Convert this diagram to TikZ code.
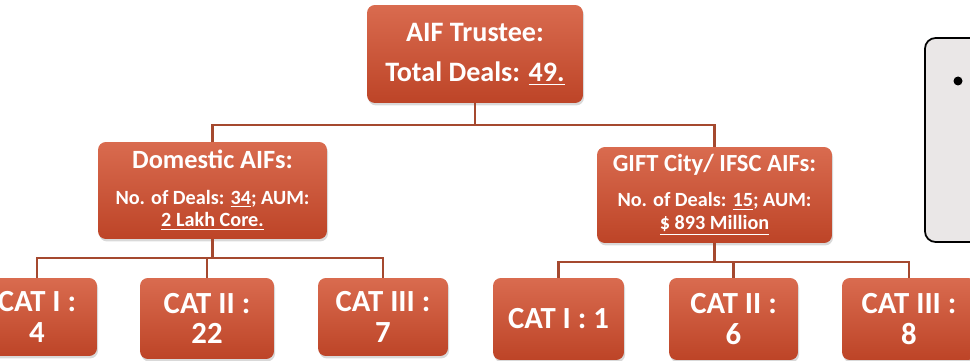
\documentclass[tikz,border=0pt]{standalone}
\usepackage{fontspec}
\setmainfont{Carlito}
\usetikzlibrary{shadows}
\definecolor{boxtop}{HTML}{D96B4F}
\definecolor{boxbot}{HTML}{BD4427}
\definecolor{linkcol}{HTML}{A5492F}
\definecolor{panelgray}{HTML}{EAE7E7}
\tikzset{
  aifbox/.style={rounded corners=4.5pt, top color=boxtop, bottom color=boxbot, text=white, align=center, inner sep=0pt,
    drop shadow={opacity=0.3, shadow xshift=0.6pt, shadow yshift=-1.4pt}},
  catbox/.style={aifbox, font=\bfseries\fontsize{17.5}{17.5}\selectfont},
  link/.style={draw=linkcol, line width=1.5pt},
}

\begin{document}
\begin{tikzpicture}[x=0.02cm, y=-0.02cm]
   \useasboundingbox (0,0) rectangle (970,361);
   \clip (0,0) rectangle (970,361);
   \node[aifbox, minimum width=4.32cm, minimum height=1.96cm, font=\bfseries\fontsize{16}{22.7}\selectfont] (trustee) at (475,54) {AIF Trustee:\\Total Deals: \underline{49.}};
   \node[aifbox, minimum width=4.58cm, minimum height=1.94cm, font=\bfseries\fontsize{11.5}{13}\selectfont] (domestic) at (212.5,190.5) {{\fontsize{15}{15}\selectfont Domestic AIFs:}\\[7pt]No. of Deals: \underline{34}; AUM:\\\underline{2 Lakh Core.}};
   \node[aifbox, minimum width=4.70cm, minimum height=1.92cm, font=\bfseries\fontsize{11.5}{13}\selectfont] (gift) at (714.5,195) {{\fontsize{14}{14}\selectfont GIFT City/ IFSC AIFs:}\\[7pt]No. of Deals: \underline{15}; AUM:\\\underline{\$ 893 Million}};
   \node[catbox, minimum width=2.40cm, minimum height=1.56cm] (dcat1) at (37,317) {CAT I :\\4};
   \node[catbox, minimum width=2.68cm, minimum height=1.62cm] (dcat2) at (207,318.5) {CAT II :\\22};
   \node[catbox, minimum width=2.60cm, minimum height=1.56cm] (dcat3) at (383,317) {CAT III :\\7};
   \node[catbox, minimum width=2.62cm, minimum height=1.64cm] (gcat1) at (558.5,319) {CAT I : 1};
   \node[catbox, minimum width=2.58cm, minimum height=1.64cm] (gcat2) at (733.5,319) {CAT II :\\6};
   \node[catbox, minimum width=2.68cm, minimum height=1.64cm] (gcat3) at (909,319) {CAT III :\\8};
   \coordinate (tbus) at (475,125);
   \coordinate (dbus) at (212.5,258);
   \coordinate (gbus) at (714.5,262);
   \draw[link] (trustee.south) -- (tbus) -| (domestic.north);
   \draw[link] (tbus) -| (gift.north);
   \draw[link] (domestic.south) -- (dbus) -| (dcat1.north);
   \draw[link] (dbus) -| (dcat2.north);
   \draw[link] (dbus) -| (dcat3.north);
   \draw[link] (gift.south) -- (gbus) -| (gcat1.north);
   \draw[link] (gbus) -| (gcat2.north);
   \draw[link] (gbus) -| (gcat3.north);
   \node[draw=black, line width=1pt, fill=panelgray, rounded corners=6pt, minimum width=1.8cm, minimum height=4.08cm] (panel) at (970,140) {};
   \node[circle, fill=black, inner sep=0pt, minimum size=0.18cm] (bullet) at (958,81) {};
\end{tikzpicture}
\end{document}
